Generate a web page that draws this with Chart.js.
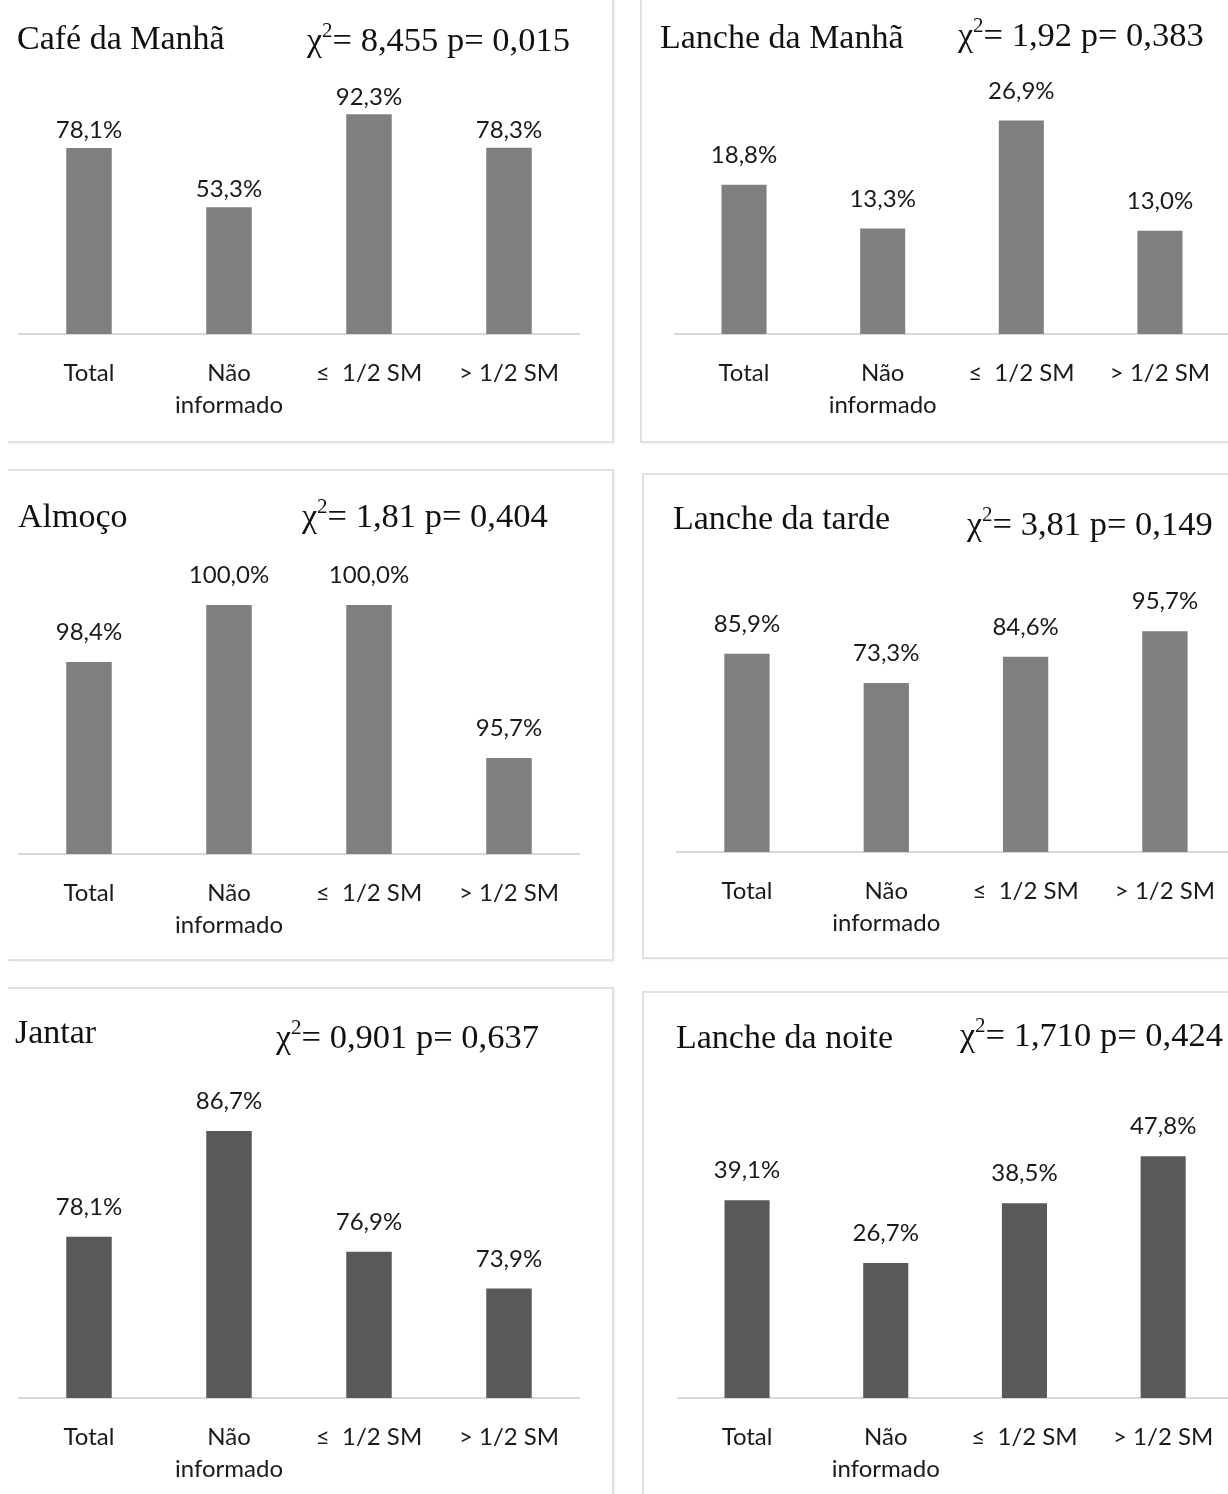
<!DOCTYPE html>
<html>
<head>
<meta charset="utf-8">
<script src="https://cdn.jsdelivr.net/npm/chart.js@4.4.1/dist/chart.umd.min.js"></script>
<style>
  html, body { margin: 0; padding: 0; background: #ffffff; }
  body { width: 1228px; height: 1494px; position: relative; overflow: hidden; }
  .frame { position: absolute; box-sizing: border-box; border: 2px solid #e1e1e1; box-shadow: 1px 1px 2px rgba(0,0,0,0.06); }
  canvas { position: absolute; }
</style>
</head>
<body>
<script>
// Categories shared by every meal chart
const categories = ['Total', ['Não', 'informado'], '≤  1/2 SM', '> 1/2 SM'];

// Meal names and test statistics
const mealTitles = ['Café da Manhã', 'Lanche da Manhã', 'Almoço', 'Lanche da tarde', 'Jantar', 'Lanche da noite'];
const chiSquare  = ['8,455', '1,92', '1,81', '3,81', '0,901', '1,710'];
const pValues    = ['0,015', '0,383', '0,404', '0,149', '0,637', '0,424'];

// Percentages per meal (Total, Não informado, ≤ 1/2 SM, > 1/2 SM)
const cafeDaManha   = [78.1, 53.3, 92.3, 78.3];
const lancheDaManha = [18.8, 13.3, 26.9, 13.0];
const almoco        = [98.4, 100.0, 100.0, 95.7];
const lancheDaTarde = [85.9, 73.3, 84.6, 95.7];
const jantar        = [78.1, 86.7, 76.9, 73.9];
const lancheDaNoite = [39.1, 26.7, 38.5, 47.8];

// Value axis range of each chart
const axisMin = [0, 0, 93, 0, 65, 0];
const axisMax = [100, 30, 100, 100, 90, 50];

const series = [cafeDaManha, lancheDaManha, almoco, lancheDaTarde, jantar, lancheDaNoite];
const barColors = ['#7f7f7f', '#7f7f7f', '#7f7f7f', '#7f7f7f', '#595959', '#595959'];

// Panel frames (page pixels)
const frames = [
  { left: 8,   top: -10, width: 606, height: 453, hide: ['left', 'top'] },
  { left: 640, top: -10, width: 600, height: 453, hide: ['right', 'top'] },
  { left: 8,   top: 469, width: 606, height: 492, hide: ['left'] },
  { left: 642, top: 473, width: 600, height: 486, hide: ['right'] },
  { left: 8,   top: 987, width: 606, height: 520, hide: ['left', 'bottom'] },
  { left: 642, top: 991, width: 600, height: 520, hide: ['right', 'bottom'] }
];

// Canvas box, plot box and header placement of each panel (page pixels)
const layouts = [
  { cx: 8,   cy: 0,   cw: 604, ch: 440, axL: 19,    axR: 579,    top: 96,     base: 334,  lblOff: 17.5, tX: 17,  tY: 49,   cX: 307, cY: 51 },
  { cx: 642, cy: 0,   cw: 602, ch: 440, axL: 674.7, axR: 1229.3, top: 96,     base: 334,  lblOff: 29.5, tX: 660, tY: 48,   cX: 958, cY: 46 },
  { cx: 8,   cy: 471, cw: 604, ch: 488, axL: 19,    axR: 579,    top: 605,    base: 854,  lblOff: 29.5, tX: 18,  tY: 527,  cX: 302, cY: 527 },
  { cx: 644, cy: 475, cw: 600, ch: 482, axL: 677.3, axR: 1234.6, top: 621.3,  base: 852,  lblOff: 29.5, tX: 673, tY: 529,  cX: 967, cY: 535 },
  { cx: 8,   cy: 989, cw: 604, ch: 505, axL: 19,    axR: 579,    top: 1090.5, base: 1398, lblOff: 29.5, tX: 15,  tY: 1043, cX: 276, cY: 1048 },
  { cx: 644, cy: 993, cw: 600, ch: 501, axL: 677.7, axR: 1232.5, top: 1145,   base: 1398, lblOff: 29.5, tX: 676, tY: 1048, cX: 960, cY: 1046 }
];

const X_AXIS_HEIGHT = 80;
const SERIF = '"Liberation Serif", "Times New Roman", serif';
const SANS = 'Lato, "Open Sans", sans-serif';
const TEXT_DARK = '#1a1a1a';

frames.forEach(f => {
  const d = document.createElement('div');
  d.className = 'frame';
  d.style.left = f.left + 'px';
  d.style.top = f.top + 'px';
  d.style.width = f.width + 'px';
  d.style.height = f.height + 'px';
  f.hide.forEach(side => { d.style['border' + side[0].toUpperCase() + side.slice(1)] = 'none'; });
  document.body.appendChild(d);
});

function fmt(v) {
  return v.toFixed(1).replace('.', ',') + '%';
}

// Meal name on the left, chi-square and p on the right
function headerPlugin(i, L) {
  return {
    id: 'mealHeader' + i,
    afterDraw(chart) {
      const ctx = chart.ctx;
      ctx.save();
      ctx.fillStyle = '#111111';
      ctx.textBaseline = 'alphabetic';
      ctx.textAlign = 'left';
      ctx.font = '34px ' + SERIF;
      ctx.fillText(mealTitles[i], L.tX - L.cx, L.tY - L.cy);

      let x = L.cX - L.cx;
      const y = L.cY - L.cy;
      ctx.fillText('χ', x, y);
      x += ctx.measureText('χ').width;
      ctx.font = '21px ' + SERIF;
      ctx.fillText('2', x, y - 14);
      x += ctx.measureText('2').width;
      ctx.font = '34.5px ' + SERIF;
      ctx.fillText('= ' + chiSquare[i] + ' p= ' + pValues[i], x, y);
      ctx.restore();
    }
  };
}

// Percentage above each bar
function valueLabelPlugin(i, L) {
  return {
    id: 'valueLabels' + i,
    afterDatasetsDraw(chart) {
      const ctx = chart.ctx;
      const meta = chart.getDatasetMeta(0);
      const values = chart.data.datasets[0].data;
      ctx.save();
      ctx.font = '24px ' + SANS;
      ctx.fillStyle = TEXT_DARK;
      ctx.textAlign = 'center';
      ctx.textBaseline = 'middle';
      meta.data.forEach((bar, k) => {
        ctx.fillText(fmt(values[k]), bar.x, bar.y - L.lblOff);
      });
      ctx.restore();
    }
  };
}

layouts.forEach((L, i) => {
  const canvas = document.createElement('canvas');
  canvas.width = L.cw;
  canvas.height = L.ch;
  canvas.style.left = L.cx + 'px';
  canvas.style.top = L.cy + 'px';
  document.body.appendChild(canvas);

  new Chart(canvas, {
    type: 'bar',
    data: {
      labels: categories,
      datasets: [{
        data: series[i],
        backgroundColor: barColors[i],
        borderWidth: 0,
        barPercentage: 0.325,
        categoryPercentage: 1.0
      }]
    },
    options: {
      responsive: false,
      animation: false,
      events: [],
      layout: {
        padding: {
          left: L.axL - L.cx,
          right: (L.cx + L.cw) - L.axR,
          top: L.top - L.cy,
          bottom: (L.cy + L.ch) - L.base - X_AXIS_HEIGHT
        }
      },
      plugins: {
        legend: { display: false },
        tooltip: { enabled: false },
        title: { display: false }
      },
      scales: {
        x: {
          offset: true,
          grid: { display: false, drawTicks: false },
          border: { display: true, color: '#d9d9d9', width: 2 },
          ticks: {
            color: TEXT_DARK,
            font: { family: SANS, size: 24, lineHeight: 1.3 },
            padding: 24,
            maxRotation: 0,
            autoSkip: false
          },
          afterFit(scale) { scale.height = X_AXIS_HEIGHT; }
        },
        y: {
          display: false,
          min: axisMin[i],
          max: axisMax[i]
        }
      }
    },
    plugins: [valueLabelPlugin(i, L), headerPlugin(i, L)]
  });
});
</script>
</body>
</html>
